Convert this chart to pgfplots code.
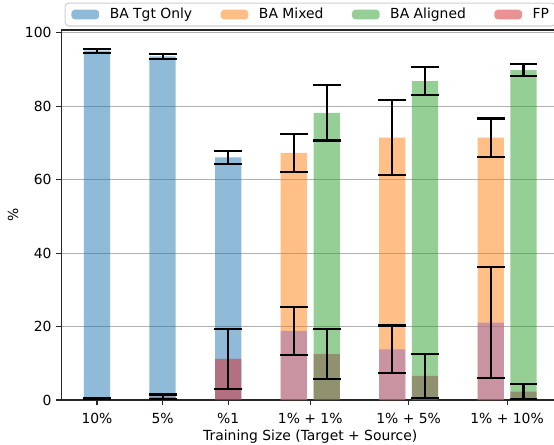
\documentclass[border=0pt]{standalone}
\usepackage{pgfplots}
\pgfplotsset{compat=1.18}
\usepackage{pgfplotstable}
\usepackage{fontspec}
\setmainfont{DejaVu Sans}
\definecolor{tabblue}{HTML}{1F77B4}
\definecolor{taborange}{HTML}{FF7F0E}
\definecolor{tabgreen}{HTML}{2CA02C}
\definecolor{tabred}{HTML}{D62728}
\definecolor{tabpurple}{HTML}{9467BD}
\definecolor{tabbrown}{HTML}{8C564B}
\definecolor{gridgray}{HTML}{B0B0B0}
\definecolor{legframe}{HTML}{D0D0D0}

\pgfplotstableread{
x y e
0 95.15 0.5
1 93.6 0.75
2 66.1 1.8
}\tgtonly
\pgfplotstableread{
x y e
3.0 67.3 5.2
4.5 71.5 10.2
6.0 71.5 5.2
}\mixed
\pgfplotstableread{
x y e
3.5 78.2 7.5
5.0 86.9 3.8
6.5 89.9 1.6
}\aligned
\pgfplotstableread{
x y e
0 0.4 0.25
1 0.9 0.6
2 11.2 8.1
}\fptgt
\pgfplotstableread{
x y e
3.0 18.8 6.5
4.5 13.8 6.5
6.0 21.1 15.2
}\fpmixed
\pgfplotstableread{
x y e
3.5 12.5 6.8
5.0 6.6 6.0
6.5 2.3 2.1
}\fpaligned

\begin{document}
\begin{tikzpicture}
\begin{scope}
\clip (-44.1pt,-31.68pt) rectangle (354.78pt,288pt);
\begin{axis}[
  at={(0,0)}, anchor=south west,
  scale only axis,
  width=358.56pt, height=266.4pt,
  xmin=-0.545, xmax=7.045,
  ymin=0, ymax=100.8,
  axis line style={black!85, line width=0.8pt},
  tick pos=left,
  tick align=outside,
  major tick length=3.5pt,
  tick style={black!85, line width=0.8pt},
  xtick={0,1,2,3.25,4.75,6.25},
  xticklabels={10\%,5\%,\%1,1\% + 1\%,1\% + 5\%,1\% + 10\%},
  ytick={0,20,40,60,80,100},
  ymajorgrids,
  grid style={gridgray, line width=0.8pt},
  /pgf/number format/assume math mode=true,
  ticklabel style={font=\fontsize{10}{12}\selectfont},
  xticklabel style={yshift=-2.5pt},
  xlabel={Training Size (Target + Source)},
  ylabel={\%},
  label style={font=\fontsize{10}{12}\selectfont},
  every axis x label/.style={at={(axis description cs:0.5,-0.1)}, anchor=center},
  every axis y label/.style={at={(axis description cs:-0.0969,0.5)}, anchor=center, rotate=90},
  legend columns=4,
  legend image code/.code={\fill[#1] (0pt,-3.45pt) rectangle (20pt,3.45pt);},
  legend style={
    at={(0.5,1.0743)}, anchor=north,
    draw=legframe, line width=0.8pt, rounded corners=2.5pt, fill=white,
    inner xsep=4.5pt, inner ysep=3.5pt,
    font=\fontsize{10}{12}\selectfont,
    nodes={inner sep=0pt, text height=7.5pt, text depth=2pt},
    /tikz/every odd column/.append style={column sep=7.6pt},
    /tikz/every even column/.append style={column sep=20.5pt},
  },
  every axis plot/.append style={ybar, bar width=0.4, bar shift=0pt, draw=none, fill opacity=0.5},
  error bars/error bar style={draw=black, line width=1.5pt, opacity=1},
  error bars/error mark options={draw=black, line width=1.5pt, mark size=10pt, opacity=1, rotate=90},
]
\addplot[fill=tabblue, error bars/.cd, y dir=both, y explicit] table[x=x, y=y, y error=e] {\tgtonly};
\addlegendentry{BA Tgt Only}
\addplot[fill=taborange, error bars/.cd, y dir=both, y explicit] table[x=x, y=y, y error=e] {\mixed};
\addlegendentry{BA Mixed}
\addplot[fill=tabgreen, error bars/.cd, y dir=both, y explicit] table[x=x, y=y, y error=e] {\aligned};
\addlegendentry{BA Aligned}
\addplot[fill=tabred, error bars/.cd, y dir=both, y explicit] table[x=x, y=y, y error=e] {\fptgt};
\addlegendentry{FP}
\addplot[forget plot, fill=tabpurple, error bars/.cd, y dir=both, y explicit] table[x=x, y=y, y error=e] {\fpmixed};
\addplot[forget plot, fill=tabbrown, error bars/.cd, y dir=both, y explicit] table[x=x, y=y, y error=e] {\fpaligned};
\end{axis}
\end{scope}
\pgfresetboundingbox
\path[use as bounding box] (-44.1pt,-31.68pt) rectangle (354.78pt,288pt);
\end{tikzpicture}
\end{document}
